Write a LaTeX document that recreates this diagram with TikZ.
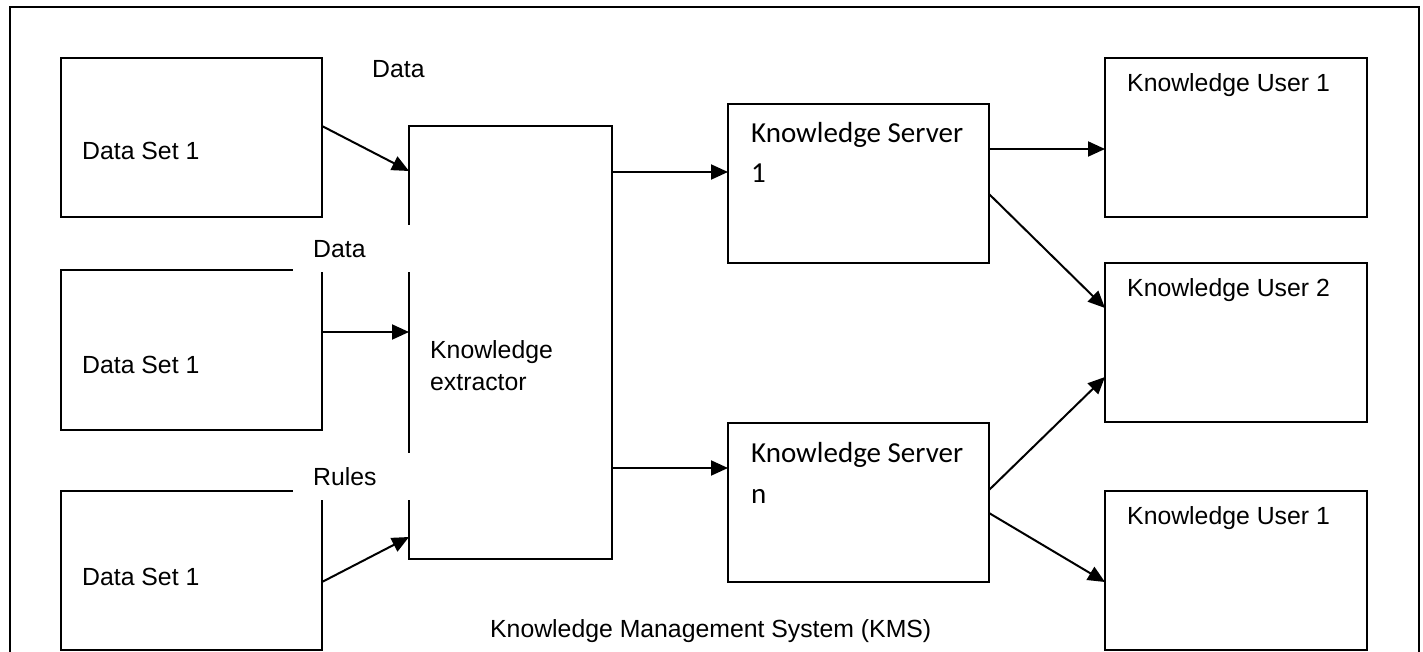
\documentclass[tikz,border=0pt]{standalone}
\usepackage{fontspec}
\setmainfont{Liberation Sans}
\newfontfamily\calib{Carlito}
\usetikzlibrary{arrows.meta,calc}
\begin{document}
\begin{tikzpicture}[x=1pt,y=-1pt,
  box/.style={draw, line width=1.8pt, inner sep=0pt, outer sep=0pt, anchor=north west},
  txt/.style={anchor=base west, inner sep=0pt, font=\fontsize{24.8}{30}\selectfont},
  ctxt/.style={anchor=base west, inner sep=0pt, font=\calib\fontsize{29}{35}\selectfont},
  lbl/.style={fill=white, anchor=north west, inner xsep=20pt, inner ysep=0pt, text width=78pt, align=left, minimum height=47pt, font=\fontsize{24.8}{30}\selectfont},
  arr/.style={line width=2pt, -{Triangle[length=17pt,width=15pt]}}]
\useasboundingbox (0,0) rectangle (1423,652);
% outer frame
\node[box, minimum width=1409pt, minimum height=700pt] (frame) at (10,7) {};
% boxes
\node[box, minimum width=261pt, minimum height=159pt] (ds1) at (61,58) {};
\node[box, minimum width=261pt, minimum height=160pt] (ds2) at (61,270) {};
\node[box, minimum width=261pt, minimum height=159pt] (ds3) at (61,491) {};
\node[box, minimum width=203pt, minimum height=433pt] (ext) at (409,126) {};
\node[box, minimum width=261pt, minimum height=159pt] (ks1) at (728,104) {};
\node[box, minimum width=261pt, minimum height=159pt] (ksn) at (728,423) {};
\node[box, minimum width=262pt, minimum height=159pt] (ku1) at (1105,58) {};
\node[box, minimum width=262pt, minimum height=159pt] (ku2) at (1105,263) {};
\node[box, minimum width=262pt, minimum height=159pt] (ku3) at (1105,491) {};
% texts
\node[txt] (t1) at ($(ds1.north west)+(21,102)$) {Data Set 1};
\node[txt] (t2) at ($(ds2.north west)+(21,103)$) {Data Set 1};
\node[txt] (t3) at ($(ds3.north west)+(21,94)$) {Data Set 1};
\node[txt] (t4) at ($(ext.north west)+(21,232)$) {Knowledge};
\node[txt] (t5) at ($(ext.north west)+(21,264)$) {extractor};
\node[ctxt] (t6) at ($(ks1.north west)+(23,39)$) {Knowledge Server};
\node[ctxt] (t7) at ($(ks1.north west)+(23,79)$) {1};
\node[ctxt] (t8) at ($(ksn.north west)+(23,39)$) {Knowledge Server};
\node[ctxt] (t9) at ($(ksn.north west)+(23,80)$) {n};
\node[txt] (t10) at ($(ku1.north west)+(22,34)$) {Knowledge User 1};
\node[txt] (t11) at ($(ku2.north west)+(22,33)$) {Knowledge User 2};
\node[txt] (t12) at ($(ku3.north west)+(22,33)$) {Knowledge User 1};
\node[txt] (kms) at (490,637) {Knowledge Management System (KMS)};
% labels with white background
\node[lbl] (l1) at (352,45) {Data};
\node[lbl] (l2) at (293,225) {Data};
\node[lbl] (l3) at (293,453) {Rules};
% connectors
\draw[arr] (ds1.east |- 0,126) -- (ext.west |- 0,171);
\draw[arr] (ds2.east |- 0,332) -- (ext.west |- 0,332);
\draw[arr] (ds3.east |- 0,582) -- (ext.west |- 0,537);
\draw[arr] (ext.east |- 0,172) -- (ks1.west |- 0,172);
\draw[arr] (ext.east |- 0,468) -- (ksn.west |- 0,468);
\draw[arr] (ks1.east |- 0,149) -- (ku1.west |- 0,149);
\draw[arr] (ks1.east |- 0,194) -- (ku2.west |- 0,308);
\draw[arr] (ksn.east |- 0,490) -- (ku2.west |- 0,377);
\draw[arr] (ksn.east |- 0,513) -- (ku3.west |- 0,582);
\end{tikzpicture}
\end{document}
